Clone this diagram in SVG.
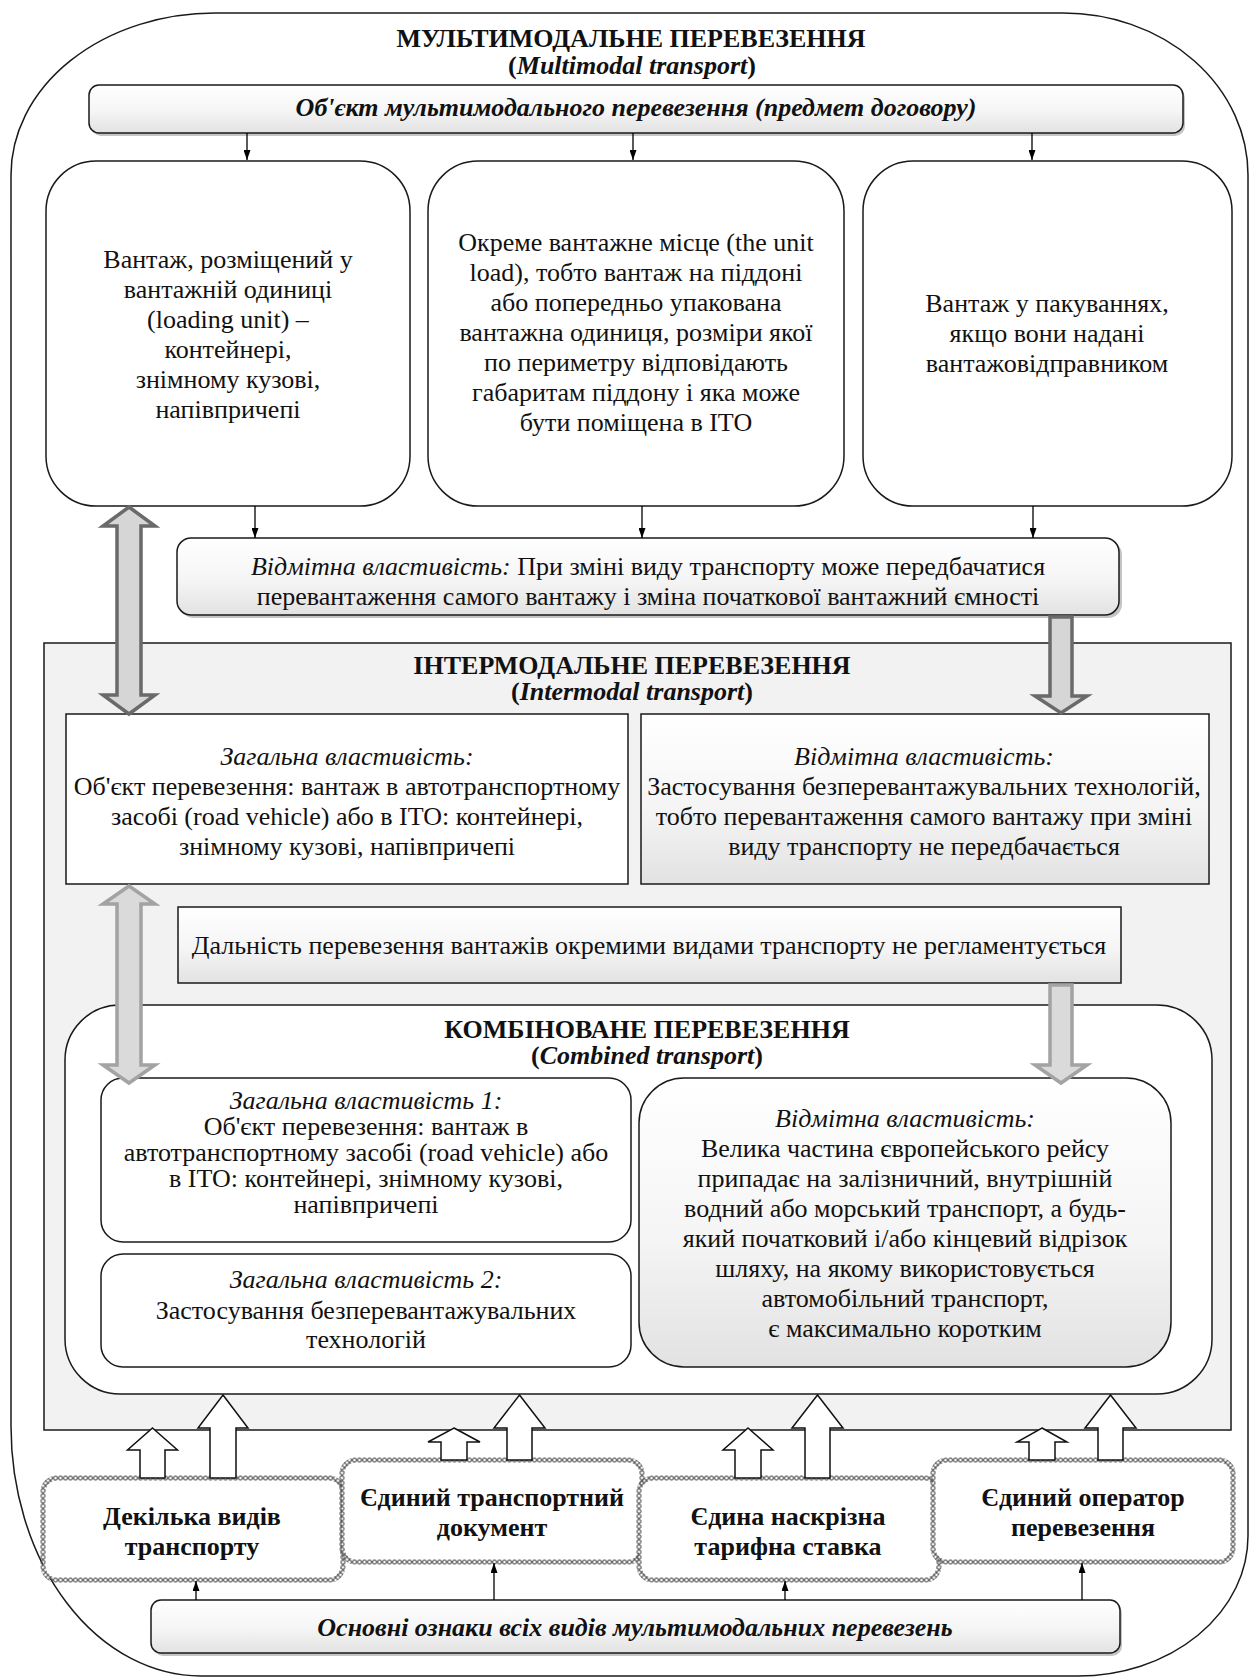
<svg xmlns="http://www.w3.org/2000/svg" width="1251" height="1679" viewBox="0 0 1251 1679">
<defs>
  <style>
    .t { font-family: 'Liberation Serif', 'Times New Roman', serif; font-size: 26px; fill: #111; text-anchor: middle; }
    .b { font-weight: bold; }
    .i { font-style: italic; }
    .box { fill: #fff; stroke: #1a1a1a; stroke-width: 1.5; }
    .gbox { fill: url(#gr); stroke: #1a1a1a; stroke-width: 1.5; }
    .sh { fill: #c4c4c4; }
    .ln { stroke: #000; stroke-width: 1.3; fill: none; marker-end: url(#arr); }
    .wa { fill: #fff; stroke: #111; stroke-width: 1.5; stroke-linejoin: miter; }
    .ga { fill: #d6d6d6; stroke: #6a6a6a; stroke-width: 3.5; stroke-linejoin: miter; }
    .la { fill: #dadada; stroke: #a3a3a3; stroke-width: 3.5; stroke-linejoin: miter; }
    .zb { fill: #fff; stroke-width: 5; }
    .zz { stroke: #555; stroke-width: 1.1; fill: none; }
  </style>
  <linearGradient id="gr" x1="0" y1="0" x2="0" y2="1">
    <stop offset="0" stop-color="#ffffff"/>
    <stop offset="0.55" stop-color="#f5f5f5"/>
    <stop offset="1" stop-color="#e2e2e2"/>
  </linearGradient>
  <pattern id="z1" x="0.5" y="1.6" width="5" height="5.1" patternUnits="userSpaceOnUse"><path class="zz" d="M0,0 L5,5.1 M0,5.1 L5,0"/></pattern>
  <pattern id="z2" x="4.5" y="4.0" width="5" height="5.1" patternUnits="userSpaceOnUse"><path class="zz" d="M0,0 L5,5.1 M0,5.1 L5,0"/></pattern>
  <pattern id="z3" x="1.5" y="1.6" width="5" height="5.1" patternUnits="userSpaceOnUse"><path class="zz" d="M0,0 L5,5.1 M0,5.1 L5,0"/></pattern>
  <pattern id="z4" x="0.5" y="4.0" width="5" height="5.1" patternUnits="userSpaceOnUse"><path class="zz" d="M0,0 L5,5.1 M0,5.1 L5,0"/></pattern>
  <marker id="arr" markerWidth="10" markerHeight="7" refX="10" refY="3.5" orient="auto" markerUnits="userSpaceOnUse">
    <path d="M0,0 L10,3.5 L0,7 Z" fill="#000"/>
  </marker>
</defs>

<rect width="1251" height="1679" fill="#fff"/>

<g id="multimodal">
  <path d="M11,175 A204,162 0 0 1 215,13 L1063,13 A185,162 0 0 1 1248,175 L1248,1536 A170,140 0 0 1 1078,1676 L201,1676 A190,250 0 0 1 11,1426 Z" fill="#fff" stroke="#1a1a1a" stroke-width="1.5"/>
  <text class="t b" x="631" y="47">МУЛЬТИМОДАЛЬНЕ ПЕРЕВЕЗЕННЯ</text>
  <text class="t b" x="632" y="74">(<tspan class="i">Multimodal transport</tspan>)</text>
</g>

<g id="object">
  <rect class="sh" x="91" y="88" width="1094" height="48" rx="10"/>
  <rect class="gbox" x="89" y="85" width="1094" height="48" rx="10"/>
  <text class="t b i" x="636" y="116">Об'єкт мультимодального перевезення (предмет договору)</text>
</g>

<g id="box-loading-unit">
  <rect class="box" x="46" y="161" width="364" height="345" rx="50"/>
  <text class="t" x="228" y="268">Вантаж, розміщений у</text>
  <text class="t" x="228" y="298">вантажній одиниці</text>
  <text class="t" x="228" y="328">(loading unit) –</text>
  <text class="t" x="228" y="358">контейнері,</text>
  <text class="t" x="228" y="388">знімному кузові,</text>
  <text class="t" x="228" y="418">напівпричепі</text>
</g>

<g id="box-unit-load">
  <rect class="box" x="428" y="161" width="416" height="345" rx="50"/>
  <text class="t" x="636" y="251">Окреме вантажне місце (the unit</text>
  <text class="t" x="636" y="281">load), тобто вантаж на піддоні</text>
  <text class="t" x="636" y="311">або попередньо упакована</text>
  <text class="t" x="636" y="341">вантажна одиниця, розміри якої</text>
  <text class="t" x="636" y="371">по периметру відповідають</text>
  <text class="t" x="636" y="401">габаритам піддону і яка може</text>
  <text class="t" x="636" y="431">бути поміщена в ІТО</text>
</g>

<g id="box-packages">
  <rect class="box" x="863" y="161" width="369" height="345" rx="50"/>
  <text class="t" x="1047" y="312">Вантаж у пакуваннях,</text>
  <text class="t" x="1047" y="342">якщо вони надані</text>
  <text class="t" x="1047" y="372">вантажовідправником</text>
</g>

<g id="multimodal-distinct">
  <rect class="sh" x="180" y="541" width="942" height="77" rx="14"/>
  <rect class="gbox" x="177" y="538" width="942" height="77" rx="14"/>
  <text class="t" x="648" y="575"><tspan class="i">Відмітна властивість:</tspan> При зміні виду транспорту може передбачатися</text>
  <text class="t" x="648" y="605">перевантаження самого вантажу і зміна початкової вантажний ємності</text>
</g>

<g id="intermodal">
  <rect x="44" y="643" width="1187" height="787" fill="#f2f2f2" stroke="#1a1a1a" stroke-width="1.5"/>
  <text class="t b" x="632" y="674">ІНТЕРМОДАЛЬНЕ ПЕРЕВЕЗЕННЯ</text>
  <text class="t b" x="632" y="700">(<tspan class="i">Intermodal transport</tspan>)</text>
</g>

<g id="intermodal-general">
  <rect class="box" x="66" y="714" width="562" height="170"/>
  <text class="t i" x="347" y="765">Загальна властивість:</text>
  <text class="t" x="347" y="795">Об'єкт перевезення: вантаж в автотранспортному</text>
  <text class="t" x="347" y="825">засобі (road vehicle) або в ІТО: контейнері,</text>
  <text class="t" x="347" y="855">знімному кузові, напівпричепі</text>
</g>

<g id="intermodal-distinct">
  <rect class="gbox" x="641" y="714" width="568" height="170"/>
  <text class="t i" x="924" y="765">Відмітна властивість:</text>
  <text class="t" x="924" y="795">Застосування безперевантажувальних технологій,</text>
  <text class="t" x="924" y="825">тобто перевантаження самого вантажу при зміні</text>
  <text class="t" x="924" y="855">виду транспорту не передбачається</text>
</g>

<g id="distance">
  <rect class="gbox" x="178" y="907" width="943" height="76"/>
  <text class="t" x="649" y="954">Дальність перевезення вантажів окремими видами транспорту не регламентується</text>
</g>

<g id="combined">
  <rect class="box" x="65" y="1005" width="1147" height="389" rx="55"/>
  <text class="t b" x="647" y="1038">КОМБІНОВАНЕ ПЕРЕВЕЗЕННЯ</text>
  <text class="t b" x="647" y="1064">(<tspan class="i">Combined transport</tspan>)</text>
</g>

<g id="combined-general-1">
  <rect class="box" x="101" y="1078" width="530" height="164" rx="22"/>
  <text class="t i" x="366" y="1109">Загальна властивість 1:</text>
  <text class="t" x="366" y="1135">Об'єкт перевезення: вантаж в</text>
  <text class="t" x="366" y="1161">автотранспортному засобі (road vehicle) або</text>
  <text class="t" x="366" y="1187">в ІТО: контейнері, знімному кузові,</text>
  <text class="t" x="366" y="1213">напівпричепі</text>
</g>

<g id="combined-general-2">
  <rect class="box" x="101" y="1254" width="530" height="113" rx="22"/>
  <text class="t i" x="366" y="1288">Загальна властивість 2:</text>
  <text class="t" x="366" y="1319">Застосування безперевантажувальних</text>
  <text class="t" x="366" y="1348">технологій</text>
</g>

<g id="combined-distinct">
  <rect class="gbox" x="639" y="1078" width="532" height="289" rx="45"/>
  <text class="t i" x="905" y="1127">Відмітна властивість:</text>
  <text class="t" x="905" y="1157">Велика частина європейського рейсу</text>
  <text class="t" x="905" y="1187">припадає на залізничний, внутрішній</text>
  <text class="t" x="905" y="1217">водний або морський транспорт, а будь-</text>
  <text class="t" x="905" y="1247">який початковий і/або кінцевий відрізок</text>
  <text class="t" x="905" y="1277">шляху, на якому використовується</text>
  <text class="t" x="905" y="1307">автомобільний транспорт,</text>
  <text class="t" x="905" y="1337">є максимально коротким</text>
</g>

<g id="feature-modes">
  <rect class="zb" x="43" y="1478" width="300" height="102" rx="14" stroke="url(#z1)"/>
  <text class="t b" x="192" y="1525">Декілька видів</text>
  <text class="t b" x="192" y="1555">транспорту</text>
</g>

<g id="feature-document">
  <rect class="zb" x="342" y="1460" width="300" height="102" rx="14" stroke="url(#z2)"/>
  <text class="t b" x="492" y="1506">Єдиний транспортний</text>
  <text class="t b" x="492" y="1536">документ</text>
</g>

<g id="feature-tariff">
  <rect class="zb" x="639" y="1478" width="300" height="102" rx="14" stroke="url(#z3)"/>
  <text class="t b" x="788" y="1525">Єдина наскрізна</text>
  <text class="t b" x="788" y="1555">тарифна ставка</text>
</g>

<g id="feature-operator">
  <rect class="zb" x="933" y="1460" width="300" height="102" rx="14" stroke="url(#z4)"/>
  <text class="t b" x="1083" y="1506">Єдиний оператор</text>
  <text class="t b" x="1083" y="1536">перевезення</text>
</g>

<g id="main-features">
  <rect class="sh" x="153" y="1603" width="969" height="53" rx="10"/>
  <rect class="gbox" x="151" y="1600" width="969" height="53" rx="10"/>
  <text class="t b i" x="635" y="1636">Основні ознаки всіх видів мультимодальних перевезень</text>
</g>

<g id="connectors">
  <path class="ln" d="M247,133 V160"/>
  <path class="ln" d="M633,133 V160"/>
  <path class="ln" d="M1032,133 V160"/>
  <path class="ln" d="M255,506 V538"/>
  <path class="ln" d="M642,506 V538"/>
  <path class="ln" d="M1033,506 V538"/>
  <path class="ln" d="M196,1600 V1581"/>
  <path class="ln" d="M494,1600 V1563"/>
  <path class="ln" d="M785,1600 V1581"/>
  <path class="ln" d="M1082,1600 V1563"/>

  <path class="ga" d="M129,507 L155,526 L141,526 L141,695 L155,695 L129,714 L103,695 L117,695 L117,526 L103,526 Z"/>
  <path class="ga" d="M1050,617 L1072,617 L1072,696 L1087,696 L1061,713 L1035,696 L1050,696 Z"/>
  <path class="la" d="M129,886 L155,904 L141,904 L141,1065 L155,1065 L129,1083 L103,1065 L117,1065 L117,904 L103,904 Z"/>
  <path class="la" d="M1050,985 L1072,985 L1072,1065 L1087,1065 L1061,1083 L1035,1065 L1050,1065 Z"/>

  <path class="wa" d="M152.5,1428 L177.5,1450 L165,1450 L165,1478 L140,1478 L140,1450 L127.5,1450 Z"/>
  <path class="wa" d="M223,1395 L248,1428 L236,1428 L236,1478 L210,1478 L210,1428 L198,1428 Z"/>
  <path class="wa" d="M454,1428 L480,1442 L467,1442 L467,1460 L441,1460 L441,1442 L428,1442 Z"/>
  <path class="wa" d="M519.5,1395 L545,1428 L532,1428 L532,1460 L507,1460 L507,1428 L494,1428 Z"/>
  <path class="wa" d="M748,1428 L773,1450 L761,1450 L761,1478 L735,1478 L735,1450 L723,1450 Z"/>
  <path class="wa" d="M817.5,1395 L843,1428 L830,1428 L830,1478 L805,1478 L805,1428 L792,1428 Z"/>
  <path class="wa" d="M1042,1428 L1067,1442 L1055,1442 L1055,1460 L1029,1460 L1029,1442 L1017,1442 Z"/>
  <path class="wa" d="M1110.5,1395 L1136,1428 L1123,1428 L1123,1460 L1098,1460 L1098,1428 L1085,1428 Z"/>
</g>
</svg>
